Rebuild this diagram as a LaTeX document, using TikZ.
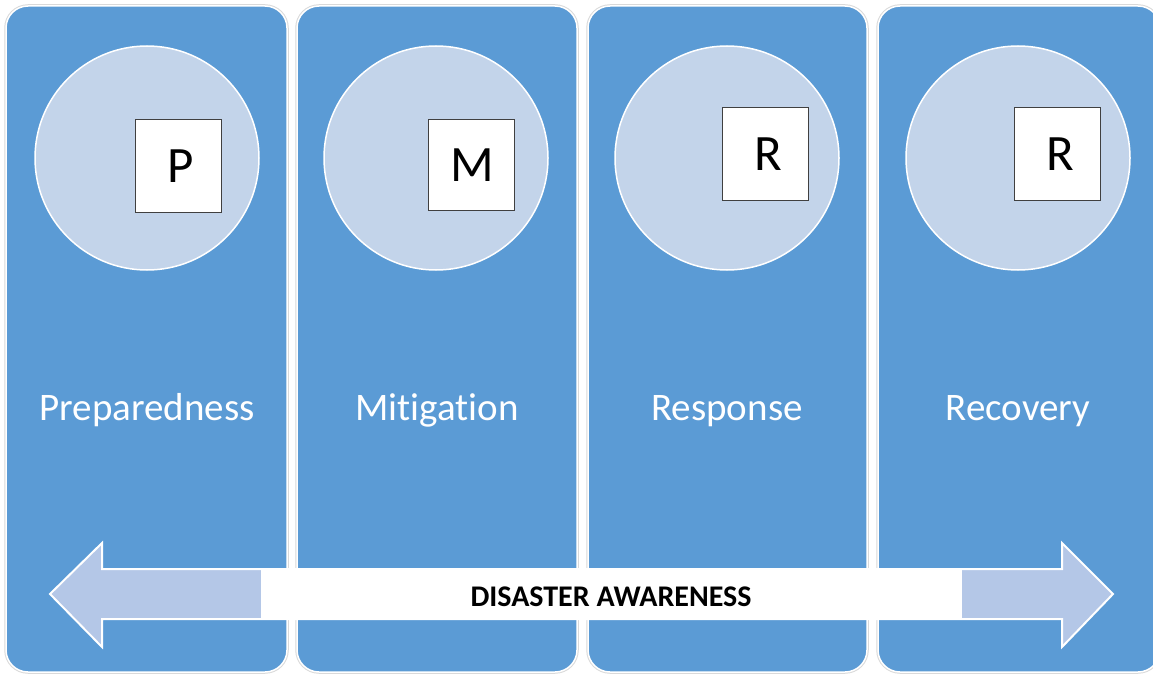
\documentclass[tikz,border=0pt]{standalone}
\usepackage{fontspec}
\setmainfont{Carlito}[Ligatures=NoCommon]
\definecolor{colblue}{RGB}{91,155,213}
\definecolor{circfill}{RGB}{195,212,234}
\definecolor{arrfill}{RGB}{180,199,231}
\definecolor{sqedge}{RGB}{64,64,64}
\begin{document}
\begin{tikzpicture}[x=1pt,y=-1pt,
  colbox/.style={rectangle, rounded corners=22pt, fill=colblue, draw=white, line width=1.5pt,
     preaction={draw=black!15, line width=3.5pt}, minimum height=666pt, inner sep=0pt},
  disc/.style={circle, fill=circfill, draw=white, line width=1.5pt, minimum size=224pt, inner sep=0pt},
  letterbox/.style={rectangle, fill=white, draw=sqedge, line width=0.9pt, minimum width=86pt, minimum height=93pt, inner sep=0pt},
  letter/.style={anchor=base, inner sep=0pt, font=\fontsize{51}{56}\selectfont},
  phase/.style={text=white, font=\fontsize{39}{44}\selectfont, inner sep=0pt, anchor=base}
]
\useasboundingbox (0,0) rectangle (1153,674);
\begin{scope}
\clip (0,0) rectangle (1153,674);
\node[colbox, minimum width=281pt] (c1) at (146.5,339) {};
\node[colbox, minimum width=280pt] (c2) at (437,339) {};
\node[colbox, minimum width=279pt] (c3) at (727.5,339) {};
\node[colbox, minimum width=282pt] (c4) at (1019,339) {};

\node[disc] (d1) at (147,158) {};
\node[disc] (d2) at (436,158) {};
\node[disc] (d3) at (727,158) {};
\node[disc] (d4) at (1018,158) {};

\node[letterbox] (s1) at (178,165.5) {};
\node[letterbox, minimum height=91pt] (s2) at (471.5,164.5) {};
\node[letterbox] (s3) at (765,153.5) {};
\node[letterbox] (s4) at (1057,153.5) {};
\node[letter] (t1) at (181,182) {P};
\node[letter] (t2) at (472,181) {M};
\node[letter] (t3) at (768,170) {R};
\node[letter] (t4) at (1060,170) {R};

\node[phase] (l1) at (147,420) {Preparedness};
\node[phase] (l2) at (437,420) {Mitigation};
\node[phase] (l3) at (727,420) {Response};
\node[phase] (l4) at (1018,420) {Recovery};

\path[fill=arrfill, draw=white, line width=2pt, line join=miter]
  (50,594) -- (102,543) -- (102,569) -- (1062,569) -- (1062,543) -- (1113,594)
  -- (1062,647) -- (1062,619) -- (102,619) -- (102,647) -- cycle;
\node[fill=white, minimum width=701pt, minimum height=48pt, inner sep=0pt] (aw) at (611.5,594) {};
\node[anchor=base, inner sep=0pt, font=\fontsize{30}{34}\selectfont\bfseries] (awt) at (611,606) {DISASTER AWARENESS};
\end{scope}
\end{tikzpicture}
\end{document}
